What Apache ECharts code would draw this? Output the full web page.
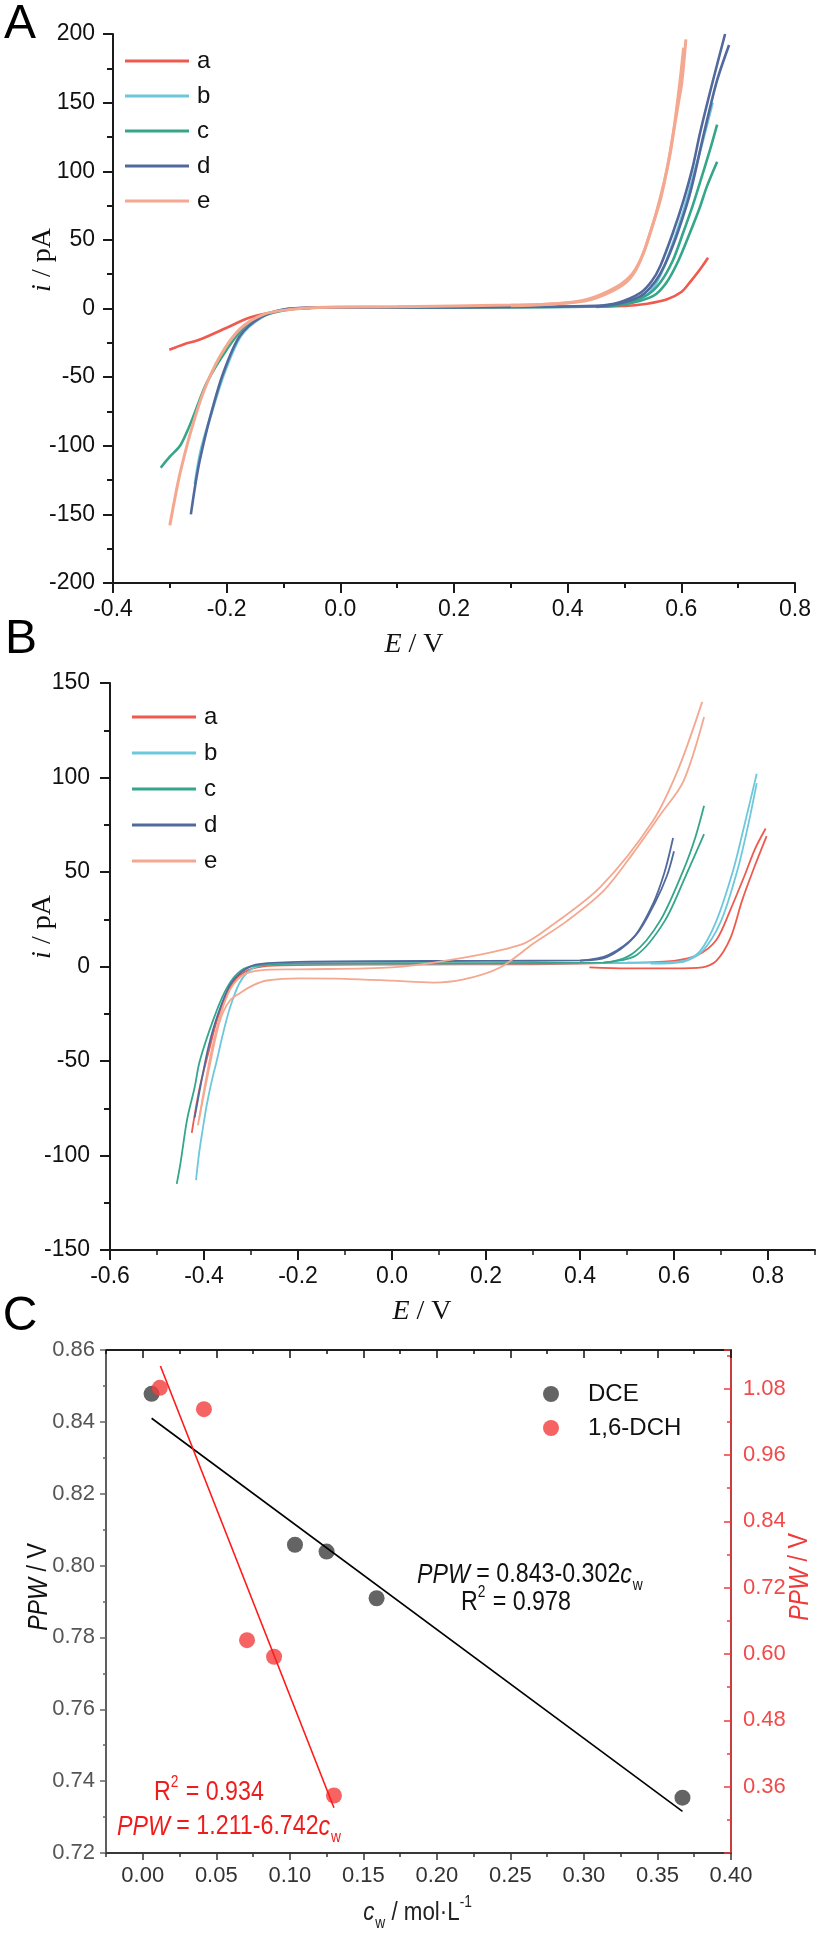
<!DOCTYPE html>
<html>
<head>
<meta charset="utf-8">
<script src="https://cdn.jsdelivr.net/npm/echarts@6/dist/echarts.min.js"></script>
<style>
html, body { margin: 0; padding: 0; background: #fff; }
#fig { width: 818px; height: 1934px; }
</style>
</head>
<body>
<div id="fig"></div>
<script>
// panel A curves, [E / V, i / pA]
var aA1 = [[-0.301,-30],[-0.275,-26],[-0.247,-22.6],[-0.2,-14],[-0.159,-6.6],[-0.112,-2],[-0.071,0.3],[0,1],[0.2,1],[0.4,1.3],[0.5,1.8],[0.54,3.5],[0.574,6.5],[0.6,12],[0.615,19],[0.632,28],[0.647,37]];
var bA1 = [[-0.256,-128],[-0.246,-104],[-0.228,-78],[-0.204,-47],[-0.175,-20],[-0.139,-6.6],[-0.1,-0.7],[-0.05,0.5],[0.2,0.8],[0.45,1.6],[0.5,3.5],[0.54,10],[0.565,26],[0.6,66],[0.63,110],[0.655,150]];
var cA1 = [[-0.316,-116],[-0.3,-108],[-0.282,-100],[-0.27,-90],[-0.259,-79],[-0.235,-54],[-0.2,-30],[-0.165,-11.7],[-0.129,-4.4],[-0.089,-0.7],[-0.04,0.5],[0.2,0.8],[0.45,1.5],[0.5,4],[0.54,10],[0.563,19],[0.585,35],[0.603,55],[0.62,75],[0.633,92],[0.65,115],[0.663,134]];
var cA2 = [[0.45,1.2],[0.5,3],[0.55,9],[0.574,19],[0.595,35],[0.615,55],[0.632,73],[0.645,89],[0.663,107]];
var dA1 = [[-0.263,-150],[-0.255,-128],[-0.247,-110],[-0.229,-79],[-0.206,-47],[-0.177,-20],[-0.141,-6.6],[-0.1,-0.7],[-0.05,0.5],[0.2,0.8],[0.45,2],[0.487,4],[0.528,11.4],[0.548,20],[0.563,31],[0.585,55],[0.604,79],[0.62,103],[0.633,128],[0.655,165],[0.677,200]];
var dA2 = [[0.45,1.5],[0.495,4],[0.535,11],[0.57,31],[0.612,79],[0.64,128],[0.662,165],[0.684,192]];
var eA1 = [[-0.3,-158],[-0.291,-138],[-0.282,-120],[-0.264,-91],[-0.241,-61],[-0.212,-35],[-0.177,-15],[-0.136,-4.4],[-0.089,-0.7],[-0.04,0.8],[0.1,1.2],[0.3,2.5],[0.38,3.5],[0.434,6.6],[0.487,16],[0.515,26],[0.533,40],[0.545,55],[0.563,79],[0.575,102],[0.586,128],[0.595,150],[0.601,165],[0.608,196]];
var eA2 = [[0.3,2],[0.43,5.5],[0.48,13],[0.51,22],[0.53,37],[0.556,70],[0.58,112],[0.596,160],[0.604,190]];

// panel B curves, [E / V, i / pA]
var aB1 = [[-0.426,-88],[-0.41,-65],[-0.39,-45],[-0.372,-28],[-0.35,-14],[-0.33,-6],[-0.296,-1],[-0.25,0.5],[0,1],[0.3,1.2],[0.5,2],[0.6,3],[0.65,6],[0.69,14],[0.72,30],[0.75,48],[0.772,62],[0.795,73]];
var aB2 = [[0.42,-0.5],[0.5,-1],[0.6,-1],[0.66,-0.5],[0.69,3],[0.72,15],[0.745,35],[0.77,52],[0.797,69]];
var bB1 = [[-0.417,-113],[-0.41,-98],[-0.402,-85],[-0.394,-73],[-0.383,-60],[-0.373,-50],[-0.36,-36],[-0.345,-22],[-0.325,-9],[-0.305,-2.5],[-0.28,0.5],[-0.2,1.5],[0.2,1.5],[0.55,2],[0.62,3],[0.655,8],[0.69,24],[0.726,51],[0.75,75],[0.776,102]];
var bB2 = [[0.55,1.5],[0.62,2.5],[0.66,8],[0.7,24],[0.735,51],[0.758,75],[0.776,97]];
var cB1 = [[-0.458,-115],[-0.45,-104],[-0.436,-81],[-0.42,-64],[-0.409,-50],[-0.38,-28],[-0.355,-13],[-0.33,-4],[-0.3,0],[-0.2,1.5],[0.2,1.8],[0.45,2],[0.513,7],[0.57,24],[0.62,51],[0.645,68],[0.664,85]];
var cB2 = [[0.45,2],[0.52,6],[0.58,24],[0.625,48],[0.664,70]];
var dB1 = [[-0.42,-80],[-0.405,-60],[-0.39,-42],[-0.37,-25],[-0.345,-10],[-0.32,-3],[-0.29,1],[-0.2,2.5],[0.2,3],[0.4,3.2],[0.457,5],[0.513,15],[0.555,33],[0.58,50],[0.598,68]];
var dB2 = [[0.4,3],[0.46,6],[0.52,17],[0.56,34],[0.585,48],[0.6,61]];
var eB1 = [[-0.413,-84],[-0.39,-55],[-0.366,-28.6],[-0.345,-18],[-0.323,-14],[-0.296,-10],[-0.266,-7.4],[-0.196,-6.3],[-0.1,-6.5],[0,-7.5],[0.087,-8.5],[0.15,-7],[0.23,-0.5],[0.3,12],[0.372,24],[0.45,40],[0.513,60],[0.57,80],[0.62,98],[0.664,132]];
var eB2 = [[-0.41,-80],[-0.38,-40],[-0.35,-15],[-0.32,-5],[-0.28,-2],[-0.2,-1.5],[0,-0.5],[0.159,5],[0.279,12],[0.336,21],[0.443,42],[0.555,77],[0.61,105],[0.66,140]];

// panel C, c_w / mol L-1 against PPW / V
var cwDCE = [0.006, 0.1035, 0.125, 0.159, 0.367];
var ppwDCE = [0.8478, 0.8058, 0.8039, 0.7909, 0.7354];
var cwDCH = [0.0116, 0.0416, 0.0709, 0.0893, 0.130];
var ppwDCH = [1.0815, 1.043, 0.625, 0.595, 0.344];
var fitDCE = [[0.006, 0.841], [0.367, 0.7316]];
var fitDCH = [[0.012, 1.121], [0.130, 0.322]];

// tick positions
var ticksB = [-0.6, -0.4, -0.2, 0, 0.2, 0.4, 0.6, 0.8];
var minorB = [-0.5, -0.3, -0.1, 0.1, 0.3, 0.5, 0.7, 0.9];
var ticksC = [0, 0.05, 0.1, 0.15, 0.2, 0.25, 0.3, 0.35, 0.4];
var minorC = [-0.025, 0.025, 0.075, 0.125, 0.175, 0.225, 0.275, 0.325, 0.375];

var colors = { a: '#EE5A4E', b: '#6DC8DC', c: '#35A68A', d: '#52699E', e: '#F4A890' };
var SANS = 'Liberation Sans, Arial, sans-serif';
var SERIF = 'Liberation Serif, Times New Roman, serif';

var chart = echarts.init(document.getElementById('fig'), null, { renderer: 'canvas' });

function fix(n) {
    return function (v) {
        if (Math.abs(v) < 1e-9) v = 0;
        return v.toFixed(n);
    };
}

function curve(name, data, xi, yi, w) {
    return {
        name: name, type: 'line', data: data, xAxisIndex: xi, yAxisIndex: yi,
        symbol: 'none', smooth: 0.3, color: colors[name],
        lineStyle: { width: w, color: colors[name] }
    };
}

function line(color, width) {
    return { show: true, onZero: false, lineStyle: { color: color, width: width } };
}
var noLine = { show: false, onZero: false };
var blackAxis = line('#1a1a1a', 2);
var labAB = { fontSize: 23, fontFamily: SANS, color: '#111' };

// tick-only x axis laid on a copy of a grid (one axis per side per grid)
function tickAxis(gi, pos, min, max, values, len, inside, color) {
    return {
        gridIndex: gi, type: 'value', position: pos, min: min, max: max, interval: 0.025,
        axisLine: noLine, splitLine: { show: false }, axisLabel: { show: false },
        axisTick: { show: true, inside: inside, length: len, customValues: values, lineStyle: { color: color, width: 1.5 } }
    };
}

// rich text styles for sub/superscripts
function rich(size, color) {
    return {
        it: { fontSize: size, fontFamily: SANS, fontStyle: 'italic', color: color },
        sub: { fontSize: Math.round(size * 0.6), fontFamily: SANS, color: color, verticalAlign: 'bottom', padding: [size * 0.8, 0, 0, 1] },
        sup: { fontSize: Math.round(size * 0.6), fontFamily: SANS, color: color, verticalAlign: 'top', padding: [0, 1, size * 0.8, 0] }
    };
}

function txt(x, y, text, size, color, family, opts) {
    var el = {
        type: 'text', x: x, y: y, silent: true,
        style: {
            text: text, fontSize: size, fontFamily: family, fill: color,
            align: 'center', verticalAlign: 'middle'
        }
    };
    if (opts) {
        for (var k in opts) el[k] = opts[k];
    }
    return el;
}

var serifRich = {
    it: { fontSize: 28, fontFamily: SERIF, fontStyle: 'italic', color: '#111' }
};

var legendAB = {
    data: ['a', 'b', 'c', 'd', 'e'], orient: 'vertical', icon: 'rect',
    itemWidth: 64, itemHeight: 3, itemGap: 11,
    textStyle: { fontSize: 24, fontFamily: SANS, color: '#111', lineHeight: 24, padding: [0, 0, 0, 3] }
};

var gridB = { left: 110, top: 683, width: 705, height: 567 };
var gridC = { left: 106, top: 1350, width: 625, height: 503 };
var narrow = { scaleX: 0.86 };

var option = {
    animation: false,
    backgroundColor: '#fff',
    textStyle: { fontFamily: SANS },
    grid: [
        { left: 113, top: 34, width: 682, height: 549 },
        gridB,
        Object.assign({ show: true, borderColor: '#111', borderWidth: 1.5 }, gridC),
        Object.assign({}, gridB),   // copy for B minor ticks
        Object.assign({}, gridC)    // copy for C minor ticks
    ],
    legend: [
        Object.assign({}, legendAB, { left: 120, top: 44 }),
        Object.assign({}, legendAB, { left: 127, top: 700, itemGap: 12 }),
        {
            data: ['DCE', '1,6-DCH'], orient: 'vertical', left: 538, top: 1377,
            itemWidth: 64, itemHeight: 16, itemGap: 10,
            textStyle: { fontSize: 24, fontFamily: SANS, color: '#111', lineHeight: 23 }
        }
    ],
    xAxis: [
        {   // 0: A
            gridIndex: 0, type: 'value', position: 'bottom', min: -0.4, max: 0.8, interval: 0.2,
            axisLine: blackAxis, splitLine: { show: false },
            axisTick: { show: true, length: 10, lineStyle: { color: '#1a1a1a', width: 2 } },
            minorTick: { show: true, splitNumber: 2, length: 5, lineStyle: { color: '#1a1a1a', width: 2 } },
            axisLabel: Object.assign({ margin: 15, formatter: fix(1) }, labAB)
        },
        {   // 1: B
            gridIndex: 1, type: 'value', position: 'bottom', min: -0.6, max: 0.9, interval: 0.1,
            axisLine: blackAxis, splitLine: { show: false },
            axisTick: { show: true, length: 10, customValues: ticksB, lineStyle: { color: '#1a1a1a', width: 2 } },
            axisLabel: Object.assign({ margin: 15, formatter: fix(1), customValues: ticksB }, labAB)
        },
        // 2: B minor ticks
        tickAxis(3, 'bottom', -0.6, 0.9, minorB, 5, false, '#1a1a1a'),
        {   // 3: C bottom
            gridIndex: 2, type: 'value', position: 'bottom', min: -0.025, max: 0.4, interval: 0.025,
            axisLine: line('#333', 1.5), splitLine: { show: false },
            axisTick: { show: true, length: 7, customValues: ticksC, lineStyle: { color: '#333', width: 1.5 } },
            axisLabel: { margin: 12, formatter: fix(2), customValues: ticksC, fontSize: 22, fontFamily: SANS, color: '#333' }
        },
        // 4: C bottom minor
        tickAxis(4, 'bottom', -0.025, 0.4, minorC, 4, false, '#333'),
        {   // 5: C top
            gridIndex: 2, type: 'value', position: 'top', min: -0.025, max: 0.4, interval: 0.025,
            axisLine: line('#111', 1.5), splitLine: { show: false },
            axisLabel: { show: false },
            axisTick: { show: true, inside: true, length: 8, customValues: ticksC, lineStyle: { color: '#111', width: 1.5 } }
        },
        // 6: C top minor
        tickAxis(4, 'top', -0.025, 0.4, minorC, 4, true, '#111')
    ],
    yAxis: [
        {   // 0: A
            gridIndex: 0, type: 'value', position: 'left', min: -200, max: 200, interval: 50,
            axisLine: blackAxis, splitLine: { show: false },
            axisTick: { show: true, length: 10, lineStyle: { color: '#1a1a1a', width: 2 } },
            minorTick: { show: true, splitNumber: 2, length: 6, lineStyle: { color: '#1a1a1a', width: 2 } },
            axisLabel: Object.assign({ margin: 18 }, labAB)
        },
        {   // 1: B
            gridIndex: 1, type: 'value', position: 'left', min: -150, max: 150, interval: 50,
            axisLine: blackAxis, splitLine: { show: false },
            axisTick: { show: true, length: 10, lineStyle: { color: '#1a1a1a', width: 2 } },
            minorTick: { show: true, splitNumber: 2, length: 6, lineStyle: { color: '#1a1a1a', width: 2 } },
            axisLabel: Object.assign({ margin: 20 }, labAB)
        },
        {   // 2: C left
            gridIndex: 2, type: 'value', position: 'left', min: 0.72, max: 0.86, interval: 0.02,
            axisLine: line('#666', 1.5), splitLine: { show: false },
            axisTick: { show: true, length: 6, lineStyle: { color: '#666', width: 1.5 } },
            minorTick: { show: true, splitNumber: 2, length: 3, lineStyle: { color: '#666', width: 1.5 } },
            axisLabel: { margin: 11, formatter: fix(2), fontSize: 22, fontFamily: SANS, color: '#555' }
        },
        {   // 3: C right (1,6-DCH)
            gridIndex: 2, type: 'value', position: 'right', min: 0.24, max: 1.15, interval: 0.12,
            axisLine: line('#f03a3a', 1.5), splitLine: { show: false },
            axisTick: { show: true, inside: true, length: 7, lineStyle: { color: '#f03a3a', width: 1.5 } },
            minorTick: { show: true, splitNumber: 2, length: 4, lineStyle: { color: '#f03a3a', width: 1.5 } },
            axisLabel: { margin: 12, formatter: fix(2), showMinLabel: false, showMaxLabel: false, fontSize: 22, fontFamily: SANS, color: '#f24a4a' }
        },
        // 4, 5: hidden partners for the grid copies
        { gridIndex: 3, type: 'value', show: false, min: 0, max: 1 },
        { gridIndex: 4, type: 'value', show: false, min: 0, max: 1 }
    ],
    series: [
        curve('a', aA1, 0, 0, 2.6),
        curve('b', bA1, 0, 0, 2.6),
        curve('c', cA1, 0, 0, 2.6),
        curve('c', cA2, 0, 0, 2.6),
        curve('d', dA1, 0, 0, 2.6),
        curve('d', dA2, 0, 0, 2.6),
        curve('e', eA1, 0, 0, 3),
        curve('e', eA2, 0, 0, 3),
        curve('a', aB1, 1, 1, 1.8),
        curve('a', aB2, 1, 1, 1.8),
        curve('b', bB1, 1, 1, 1.8),
        curve('b', bB2, 1, 1, 1.8),
        curve('c', cB1, 1, 1, 1.8),
        curve('c', cB2, 1, 1, 1.8),
        curve('d', dB1, 1, 1, 1.8),
        curve('d', dB2, 1, 1, 1.8),
        curve('e', eB1, 1, 1, 1.8),
        curve('e', eB2, 1, 1, 1.8),
        {
            name: 'DCE', type: 'scatter', xAxisIndex: 3, yAxisIndex: 2,
            symbol: 'circle', symbolSize: 16, itemStyle: { color: '#3d3d3d' },
            data: cwDCE.map(function (c, k) { return [c, ppwDCE[k]]; })
        },
        {
            name: '1,6-DCH', type: 'scatter', xAxisIndex: 3, yAxisIndex: 3,
            symbol: 'circle', symbolSize: 16, itemStyle: { color: '#f23c3c' },
            data: cwDCH.map(function (c, k) { return [c, ppwDCH[k]]; })
        },
        {
            name: 'DCE fit', type: 'line', xAxisIndex: 3, yAxisIndex: 2, data: fitDCE,
            symbol: 'none', lineStyle: { color: '#000', width: 1.6 }, z: 3
        },
        {
            name: 'DCH fit', type: 'line', xAxisIndex: 3, yAxisIndex: 3, data: fitDCH,
            symbol: 'none', lineStyle: { color: '#ff1a1a', width: 1.6 }, z: 3
        }
    ],
    graphic: [
        txt(20, 25, 'A', 48, '#000', SANS),
        txt(21, 640, 'B', 48, '#000', SANS),
        txt(20, 1317, 'C', 48, '#000', SANS),
        // axis names A and B
        txt(43, 260, '{it|i} / pA', 28, '#111', SERIF, { rotation: Math.PI / 2 }),
        txt(414, 645, '{it|E} / V', 28, '#111', SERIF),
        txt(43, 927, '{it|i} / pA', 28, '#111', SERIF, { rotation: Math.PI / 2 }),
        txt(422, 1312, '{it|E} / V', 28, '#111', SERIF),
        // axis names C
        txt(39, 1587, '{it|PPW} / V', 27, '#111', SANS, { rotation: Math.PI / 2, scaleX: 0.86 }),
        txt(800, 1577, '{it|PPW} / V', 27, '#f03a3a', SANS, { rotation: Math.PI / 2, scaleX: 0.86 }),
        txt(418, 1913, '{it|c}{sub|w} / mol·L{sup|-1}', 26, '#222', SANS, narrow),
        // fit annotations
        txt(417, 1575, '{it|PPW} = 0.843-0.302{it|c}{sub|w}', 27, '#111', SANS, narrow),
        txt(461, 1603, 'R{sup|2} = 0.978', 27, '#111', SANS, narrow),
        txt(154, 1793, 'R{sup|2} = 0.934', 27, '#f01c1c', SANS, narrow),
        txt(117, 1827, '{it|PPW} = 1.211-6.742{it|c}{sub|w}', 27, '#f01c1c', SANS, narrow)
    ]
};

// rich text settings for the graphic labels
option.graphic.forEach(function (g, k) {
    var s = g.style;
    s.rich = s.fontFamily === SERIF ? serifRich : rich(s.fontSize, s.fill);
    if (k >= 10) s.align = 'left';
});

chart.setOption(option);
</script>
</body>
</html>
